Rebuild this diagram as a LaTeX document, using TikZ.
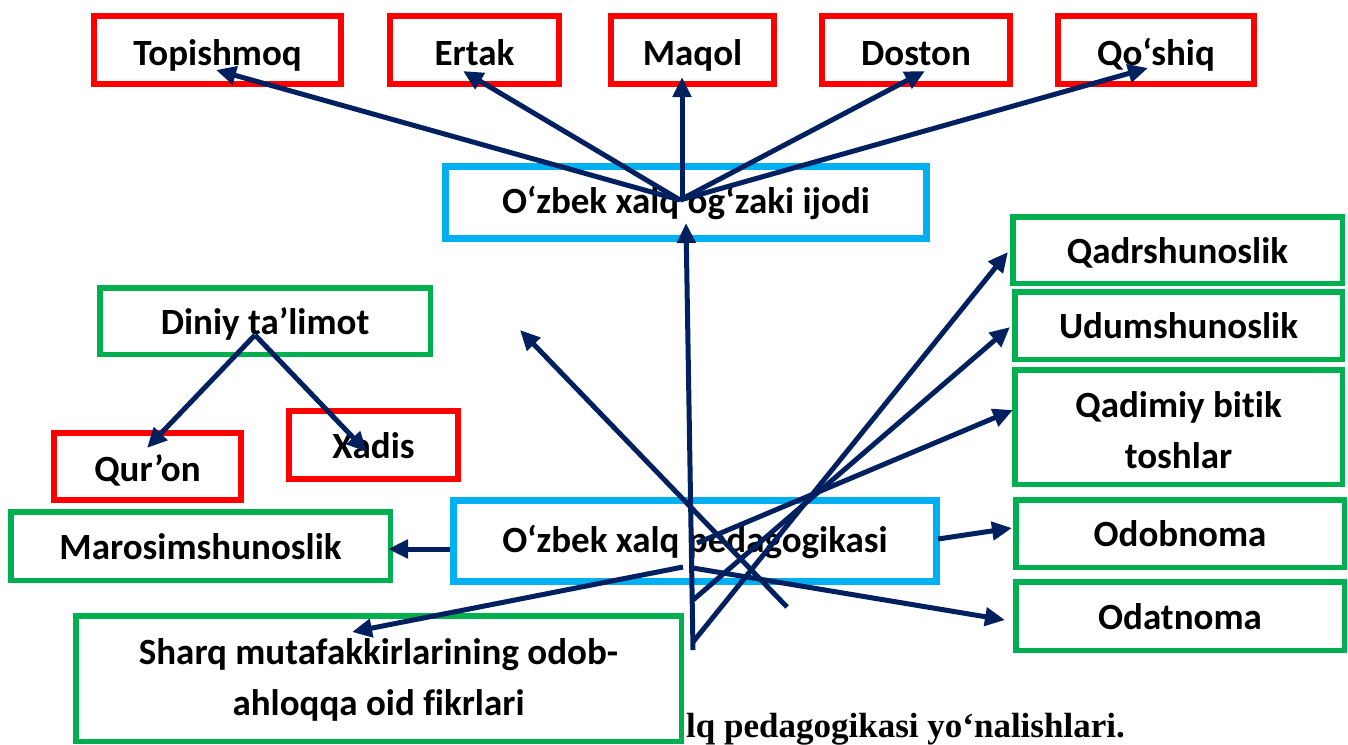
\documentclass[tikz,border=0pt]{standalone}
\usepackage{fontspec}
\setmainfont{Carlito}[Ligatures={NoCommon}]
\newfontfamily\capserif{Liberation Serif}
\usetikzlibrary{arrows.meta}
\definecolor{navy}{RGB}{0,32,96}
\definecolor{bred}{RGB}{255,0,0}
\definecolor{bgreen}{RGB}{0,176,80}
\definecolor{bblue}{RGB}{0,176,240}
\newcommand\boxfont{\fontsize{37}{51}\selectfont\bfseries}
\tikzset{
  base/.style={rectangle, fill=white, inner sep=0pt, align=center, font=\boxfont, text=black, text height=26pt, text depth=0pt},
  redbox/.style={base, draw=bred, line width=6pt},
  greenbox/.style={base, draw=bgreen, line width=5.5pt},
  bluebox/.style={base, draw=bblue, line width=7pt, text height=22pt},
  toprow/.style={redbox, text height=30pt},
  conn/.style={draw=navy, line width=5pt, -{Triangle[length=20pt,width=18pt]}},
}
\begin{document}
\begin{tikzpicture}[x=1pt,y=-1pt]
\useasboundingbox (0,0) rectangle (1348,744);
% caption (partly hidden)
\node[anchor=base west, font=\capserif\fontsize{35}{38}\selectfont\bfseries, inner sep=0pt] (cap) at (686,737) {lq pedagogikasi yo‘nalishlari.};
% top row
\node[toprow, minimum width=247pt, minimum height=68pt] (topi) at (217.5,50) {Topishmoq};
\node[toprow, minimum width=169pt, minimum height=68pt] (ertak) at (474.5,50) {Ertak};
\node[toprow, minimum width=163pt, minimum height=68pt] (maqol) at (692.5,50) {Maqol};
\node[toprow, minimum width=188pt, minimum height=68pt] (doston) at (916,50) {Doston};
\node[toprow, minimum width=196pt, minimum height=68pt] (qoshiq) at (1156,50) {Qo‘shiq};
% blue
\node[bluebox, minimum width=481pt, minimum height=72pt] (ogz) at (686,202.5) {O‘zbek xalq og‘zaki ijodi};
\node[bluebox, minimum width=483pt, minimum height=81pt] (ped) at (695,541) {O‘zbek xalq pedagogikasi};
% right column
\node[greenbox, minimum width=329.5pt, minimum height=66.5pt] (qadr) at (1177.5,250) {Qadrshunoslik};
\node[greenbox, minimum width=327.5pt, minimum height=67.5pt] (udum) at (1178.5,325.5) {Udumshunoslik};
\node[greenbox, minimum width=327.5pt, minimum height=114.5pt, text height=82pt, text depth=0pt] (qadim) at (1178.5,427) {Qadimiy bitik\\toshlar};
\node[greenbox, minimum width=328.5pt, minimum height=67.5pt] (odob) at (1180,533.5) {Odobnoma};
\node[greenbox, minimum width=328.5pt, minimum height=68.5pt] (odat) at (1180,616) {Odatnoma};
% left
\node[greenbox, minimum width=330.5pt, minimum height=66.5pt] (diniy) at (265,321) {Diniy ta’limot};
\node[redbox, minimum width=187pt, minimum height=67pt, text height=29pt] (quron) at (147.5,466.5) {Qur’on};
\node[redbox, minimum width=169pt, minimum height=68pt] (xadis) at (373.5,445) {Xadis};
\node[greenbox, minimum width=379.5pt, minimum height=68.5pt] (maros) at (200.5,546) {Marosimshunoslik};
\node[greenbox, minimum width=605.5pt, minimum height=125.5pt, text height=73pt, text depth=0pt] (sharq) at (378.5,678.5) {Sharq mutafakkirlarining odob-\\ahloqqa oid fikrlari};
% connector points
\coordinate (hub) at (680,200);
\coordinate (hubm) at (682,197);
\coordinate (tTopi) at (216,70);
\coordinate (tErtak) at (463,71);
\coordinate (tMaqol) at (682,77);
\coordinate (tDoston) at (925,71);
\coordinate (tQoshiq) at (1148,68);
\coordinate (pBase) at (693,650);
\coordinate (tOgz) at (686,223);
\coordinate (p1) at (693,642);
\coordinate (tQadr) at (1008,252);
\coordinate (p2) at (693,600);
\coordinate (tUdum) at (1010,327);
\coordinate (p3) at (697,543);
\coordinate (tQadim) at (1013,410);
\coordinate (p4) at (787,607);
\coordinate (tFree) at (520,330);
\coordinate (pR) at (938,539);
\coordinate (tOdob) at (1012,528);
\coordinate (p5) at (693,568);
\coordinate (tOdat) at (1005,620);
\coordinate (p6) at (683,567);
\coordinate (tSharq) at (352,632);
\coordinate (pL) at (450,549);
\coordinate (tMaros) at (388,549);
\coordinate (dHub) at (255,335);
\coordinate (tQuron) at (147,448);
\coordinate (tXadis) at (367,452);
% connectors
\draw[conn] (hub) -- (tTopi);
\draw[conn] (hub) -- (tErtak);
\draw[conn] (hubm) -- (tMaqol);
\draw[conn] (hub) -- (tDoston);
\draw[conn] (hub) -- (tQoshiq);
\draw[conn] (pBase) -- (tOgz);
\draw[conn] (p1) -- (tQadr);
\draw[conn] (p2) -- (tUdum);
\draw[conn] (p3) -- (tQadim);
\draw[conn] (p4) -- (tFree);
\draw[conn] (pR) -- (tOdob);
\draw[conn] (p5) -- (tOdat);
\draw[conn] (p6) -- (tSharq);
\draw[conn] (pL) -- (tMaros);
\draw[conn] (dHub) -- (tQuron);
\draw[conn] (dHub) -- (tXadis);
\end{tikzpicture}
\end{document}
